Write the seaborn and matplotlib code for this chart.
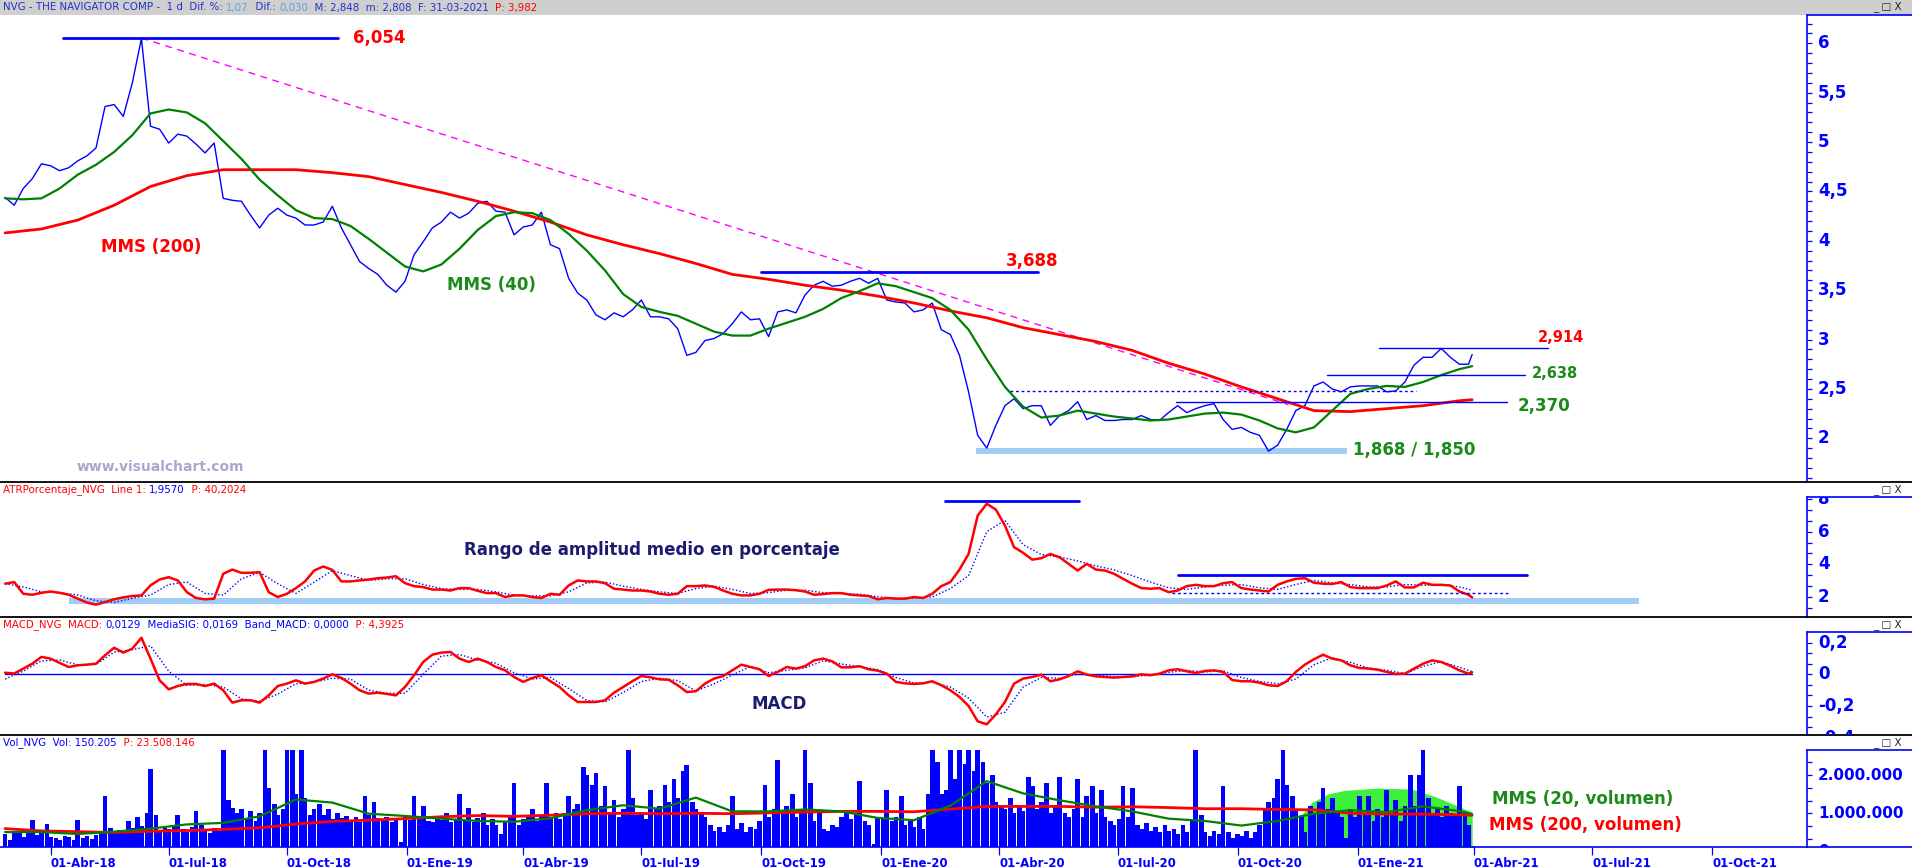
import numpy as np
import pandas as pd
import matplotlib
matplotlib.use("Agg")
import matplotlib.pyplot as plt
from matplotlib.lines import Line2D
from matplotlib.patches import Rectangle
from matplotlib.ticker import MultipleLocator
from matplotlib.transforms import Bbox, TransformedBbox
import seaborn as sns

sns.set_theme(style="white")
plt.rcParams['font.family'] = ['DejaVu Sans']

W, H = 1912, 867
START = "2018-02-26"
LAST = "2021-03-31"

# sampling grids: weekly mondays, every 2 / 4 weeks, twice a week (vol)
week_dates = list(pd.date_range(START, "2021-03-29", freq="7D").strftime("%Y-%m-%d")) + [LAST]
sig_dates = week_dates[:-1][::2] + [LAST]
ma_dates = week_dates[:-1][::4] + [LAST]
_mon = pd.date_range(START, "2021-03-29", freq="W-MON")
_thu = pd.date_range(START, "2021-03-29", freq="W-THU")
vol_dates = list(_mon.union(_thu).strftime("%Y-%m-%d")) + [LAST]

# ---- price (weekly close)
price_close = [
    4.44, 4.36, 4.53, 4.63, 4.78, 4.76, 4.71, 4.74, 4.81, 4.86,
    4.94, 5.36, 5.38, 5.26, 5.60, 6.05, 5.16, 5.13, 4.99, 5.08,
    5.06, 4.98, 4.89, 4.99, 4.43, 4.41, 4.40, 4.26, 4.13, 4.26,
    4.33, 4.26, 4.23, 4.16, 4.16, 4.19, 4.35, 4.13, 3.96, 3.79,
    3.72, 3.66, 3.55, 3.48, 3.59, 3.86, 3.99, 4.13, 4.19, 4.29,
    4.23, 4.28, 4.38, 4.40, 4.30, 4.29, 4.06, 4.14, 4.16, 4.29,
    3.96, 3.92, 3.62, 3.47, 3.40, 3.25, 3.20, 3.27, 3.23, 3.30,
    3.40, 3.23, 3.23, 3.21, 3.11, 2.84, 2.87, 2.99, 3.01, 3.06,
    3.16, 3.28, 3.20, 3.21, 3.03, 3.28, 3.30, 3.27, 3.45, 3.55,
    3.59, 3.54, 3.55, 3.59, 3.62, 3.57, 3.62, 3.40, 3.38, 3.37,
    3.28, 3.30, 3.37, 3.10, 3.05, 2.84, 2.47, 2.03, 1.90, 2.13,
    2.33, 2.40, 2.30, 2.33, 2.33, 2.13, 2.23, 2.28, 2.37, 2.19,
    2.23, 2.18, 2.18, 2.19, 2.19, 2.23, 2.19, 2.18, 2.26, 2.33,
    2.26, 2.30, 2.33, 2.35, 2.19, 2.09, 2.11, 2.06, 2.03, 1.87,
    1.93, 2.09, 2.28, 2.33, 2.53, 2.57, 2.50, 2.47, 2.52, 2.53,
    2.53, 2.53, 2.47, 2.48, 2.57, 2.74, 2.82, 2.82, 2.91, 2.82,
    2.75, 2.75, 2.848]
# MMS (40): every 2 weeks
mms40 = [
    4.43, 4.42, 4.43, 4.53, 4.67, 4.77, 4.90, 5.07, 5.29, 5.33,
    5.30, 5.19, 5.01, 4.83, 4.62, 4.46, 4.31, 4.23, 4.22, 4.15,
    4.02, 3.88, 3.74, 3.69, 3.76, 3.92, 4.11, 4.25, 4.29, 4.28,
    4.21, 4.07, 3.90, 3.70, 3.46, 3.33, 3.28, 3.24, 3.16, 3.08,
    3.04, 3.04, 3.11, 3.17, 3.23, 3.31, 3.42, 3.49, 3.57, 3.54,
    3.48, 3.42, 3.30, 3.10, 2.80, 2.52, 2.32, 2.21, 2.23, 2.28,
    2.25, 2.22, 2.20, 2.18, 2.19, 2.22, 2.25, 2.26, 2.24, 2.18,
    2.10, 2.06, 2.11, 2.28, 2.45, 2.50, 2.53, 2.52, 2.57, 2.64,
    2.70, 2.73]
# MMS (200): every 4 weeks
mms200 = [
    4.08, 4.12, 4.21, 4.36, 4.55, 4.66, 4.72, 4.72, 4.72, 4.69,
    4.65, 4.57, 4.49, 4.40, 4.30, 4.19, 4.06, 3.96, 3.87, 3.77,
    3.66, 3.61, 3.55, 3.50, 3.44, 3.37, 3.29, 3.22, 3.12, 3.05,
    2.98, 2.89, 2.76, 2.65, 2.52, 2.40, 2.28, 2.27, 2.30, 2.33,
    2.38, 2.39]

# ---- ATR % (weekly) and its signal (every 2 weeks)
atr = [
    2.80, 2.90, 2.18, 2.12, 2.24, 2.32, 2.24, 2.12, 1.88, 1.64,
    1.51, 1.67, 1.84, 1.96, 2.04, 2.08, 2.70, 3.06, 3.20, 3.00,
    2.28, 1.92, 1.84, 1.88, 3.41, 3.67, 3.47, 3.47, 3.51, 2.28,
    1.98, 2.18, 2.53, 2.94, 3.61, 3.86, 3.65, 2.94, 2.94, 3.00,
    3.06, 3.14, 3.18, 3.26, 2.83, 2.65, 2.59, 2.44, 2.44, 2.38,
    2.53, 2.53, 2.36, 2.22, 2.22, 1.98, 2.08, 2.08, 1.98, 1.92,
    2.18, 2.12, 2.69, 3.00, 2.94, 2.94, 2.83, 2.49, 2.44, 2.38,
    2.38, 2.32, 2.18, 2.12, 2.18, 2.65, 2.65, 2.69, 2.61, 2.38,
    2.18, 2.08, 2.08, 2.18, 2.42, 2.44, 2.44, 2.40, 2.32, 2.12,
    2.16, 2.22, 2.22, 2.12, 2.08, 2.04, 1.84, 1.92, 1.88, 1.88,
    1.98, 1.92, 2.18, 2.65, 2.90, 3.67, 4.63, 6.99, 7.72, 7.36,
    6.38, 5.05, 4.70, 4.28, 4.37, 4.63, 4.43, 4.02, 3.61, 4.02,
    3.67, 3.61, 3.41, 3.10, 2.80, 2.53, 2.49, 2.53, 2.28, 2.38,
    2.65, 2.73, 2.65, 2.65, 2.83, 2.90, 2.53, 2.44, 2.38, 2.32,
    2.73, 2.94, 3.10, 3.14, 2.86, 2.80, 2.78, 2.90, 2.59, 2.53,
    2.53, 2.53, 2.69, 2.94, 2.57, 2.57, 2.86, 2.73, 2.73, 2.69,
    2.32, 2.12, 1.957]
atr_sig = [
    2.80, 2.60, 2.30, 2.25, 2.10, 1.75, 1.65, 1.90, 2.10, 2.75,
    2.90, 2.20, 2.10, 3.10, 3.50, 2.80, 2.20, 2.90, 3.60, 3.30,
    3.00, 3.10, 3.10, 2.75, 2.50, 2.45, 2.45, 2.30, 2.10, 2.05,
    2.05, 2.30, 2.85, 2.90, 2.65, 2.45, 2.30, 2.20, 2.50, 2.65,
    2.45, 2.20, 2.25, 2.40, 2.40, 2.25, 2.20, 2.15, 2.00, 1.90,
    1.92, 1.98, 2.50, 3.30, 6.00, 6.70, 5.20, 4.60, 4.45, 4.20,
    3.90, 3.65, 3.30, 2.90, 2.55, 2.45, 2.60, 2.70, 2.75, 2.55,
    2.45, 2.75, 3.00, 2.85, 2.75, 2.60, 2.60, 2.75, 2.70, 2.75,
    2.60, 2.40]

# ---- MACD (weekly) and signal (every 2 weeks)
macd = [
    0.010, 0.005, 0.036, 0.067, 0.110, 0.099, 0.072, 0.046, 0.057, 0.061,
    0.067, 0.120, 0.168, 0.137, 0.162, 0.231, 0.099, -0.038, -0.095, -0.074,
    -0.061, -0.061, -0.074, -0.059, -0.101, -0.179, -0.164, -0.164, -0.179, -0.133,
    -0.074, -0.059, -0.038, -0.059, -0.048, -0.027, 0.000, -0.023, -0.059, -0.101,
    -0.122, -0.116, -0.124, -0.133, -0.080, -0.006, 0.078, 0.124, 0.137, 0.141,
    0.099, 0.078, 0.099, 0.078, 0.046, 0.025, -0.017, -0.048, -0.023, -0.006,
    -0.044, -0.080, -0.133, -0.175, -0.175, -0.175, -0.164, -0.116, -0.080, -0.044,
    -0.011, -0.019, -0.032, -0.034, -0.069, -0.112, -0.107, -0.059, -0.027, -0.011,
    0.025, 0.061, 0.046, 0.032, -0.011, 0.015, 0.046, 0.036, 0.051, 0.088,
    0.099, 0.082, 0.044, 0.044, 0.051, 0.032, 0.023, 0.004, -0.048, -0.057,
    -0.061, -0.057, -0.044, -0.069, -0.101, -0.143, -0.200, -0.297, -0.316, -0.253,
    -0.175, -0.059, -0.027, -0.017, -0.002, -0.044, -0.032, -0.011, 0.019, -0.002,
    -0.013, -0.017, -0.021, -0.017, -0.013, 0.000, -0.006, 0.004, 0.025, 0.032,
    0.019, 0.008, 0.021, 0.025, 0.015, -0.036, -0.044, -0.044, -0.053, -0.069,
    -0.074, -0.044, 0.015, 0.061, 0.095, 0.124, 0.099, 0.088, 0.057, 0.040,
    0.036, 0.029, 0.015, 0.002, 0.004, 0.036, 0.067, 0.088, 0.078, 0.053,
    0.025, 0.004, 0.0129]
macd_sig = [
    -0.030, 0.020, 0.085, 0.090, 0.060, 0.062, 0.140, 0.155, 0.180, 0.020,
    -0.070, -0.065, -0.080, -0.155, -0.170, -0.125, -0.060, -0.050, -0.025, -0.030,
    -0.100, -0.120, -0.120, 0.000, 0.115, 0.125, 0.090, 0.070, 0.010, -0.030,
    -0.020, -0.090, -0.165, -0.175, -0.115, -0.045, -0.025, -0.040, -0.105, -0.060,
    -0.005, 0.050, 0.010, 0.025, 0.040, 0.085, 0.065, 0.048, 0.030, -0.020,
    -0.055, -0.050, -0.080, -0.150, -0.270, -0.240, -0.080, -0.020, -0.025, 0.000,
    -0.005, -0.015, -0.015, -0.005, 0.012, 0.025, 0.015, 0.022, -0.020, -0.045,
    -0.060, -0.030, 0.060, 0.105, 0.075, 0.040, 0.025, 0.005, 0.050, 0.080,
    0.045, 0.0169]

# ---- volume (thousands, twice a week) and its averages (every 4 weeks)
volume_k = [
    450, 300, 520, 480, 390, 560, 820, 430, 500, 720,
    380, 350, 300, 420, 380, 290, 830, 360, 400, 330,
    440, 520, 1450, 620, 480, 560, 510, 800, 620, 900,
    680, 1000, 2150, 950, 560, 620, 580, 700, 950, 600,
    520, 640, 1050, 700, 560, 480, 620, 530, 2700, 1350,
    1150, 1000, 1100, 850, 1050, 800, 1000, 2700, 1650, 1250,
    950, 1100, 2700, 2700, 1500, 2700, 1400, 950, 1100, 1250,
    950, 1100, 850, 1000, 880, 920, 800, 900, 760, 1450,
    950, 1300, 880, 820, 900, 780, 860, 250, 900, 820,
    1450, 880, 1200, 800, 760, 900, 830, 1000, 780, 850,
    1500, 820, 1150, 760, 880, 1000, 700, 850, 700, 450,
    800, 900, 1800, 700, 850, 950, 1100, 800, 950, 1800,
    900, 1000, 850, 1000, 1450, 1100, 1250, 2200, 2000, 1750,
    2050, 1200, 1700, 1000, 1350, 900, 1100, 2700, 1400, 950,
    1000, 850, 1600, 1100, 1200, 1750, 1300, 1900, 1400, 2100,
    2250, 1300, 1100, 1000, 900, 700, 550, 650, 500, 700,
    1450, 600, 750, 500, 650, 580, 800, 1750, 900, 1100,
    2400, 1000, 1200, 1500, 900, 1100, 2700, 1800, 800, 1000,
    600, 550, 700, 650, 900, 1000, 850, 1000, 1850, 800,
    700, 200, 900, 850, 1600, 800, 900, 1450, 700, 800,
    650, 900, 600, 1500, 2700, 2350, 1500, 1600, 2700, 1900,
    2700, 2300, 2700, 2100, 2700, 2350, 1800, 2000, 1300, 1200,
    1100, 1400, 1000, 1200, 1050, 1950, 1700, 1100, 1300, 1800,
    1000, 1200, 1950, 1000, 900, 1100, 1900, 900, 1450, 1700,
    1000, 1600, 900, 800, 700, 850, 1700, 900, 1650, 700,
    600, 750, 550, 650, 500, 700, 550, 600, 450, 700,
    500, 800, 2700, 950, 500, 400, 550, 450, 1700, 500,
    350, 450, 400, 550, 350, 500, 700, 1150, 1300, 1400,
    1900, 2700, 1750, 1450, 1100, 900, 500, 1200, 1000, 1300,
    1650, 1100, 1400, 1000, 900, 350, 1100, 900, 1450, 1000,
    1450, 800, 1100, 900, 1600, 1000, 1350, 800, 1200, 2000,
    1200, 2000, 2700, 1400, 1000, 1100, 900, 1200, 1000, 950,
    1700, 1000, 700, 150]
vol_mms200_k = [
    600, 540, 520, 500, 530, 550, 580, 620, 720, 790,
    820, 860, 910, 940, 920, 950, 990, 1000, 990, 1000,
    990, 1010, 1030, 1050, 1050, 1040, 1110, 1180, 1180, 1180,
    1160, 1170, 1150, 1120, 1120, 1100, 1090, 1000, 980, 980,
    960, 950]
vol_mms20_k = [
    510, 510, 460, 520, 600, 710, 750, 920, 1360, 1280,
    990, 930, 860, 800, 780, 870, 1080, 1210, 1120, 1410,
    1050, 1050, 1100, 1050, 880, 820, 1200, 1840, 1520, 1340,
    1180, 1050, 860, 800, 680, 800, 990, 1080, 1030, 1180,
    1060, 980]
# highlighted zone (green dome) on the volume panel
dome_dates = ["2020-11-19", "2020-11-27", "2020-12-10", "2020-12-23", "2021-01-19",
              "2021-02-12", "2021-03-03", "2021-03-16", LAST]
dome_top_k = [950, 1290, 1510, 1600, 1660, 1630, 1430, 1250, 1030]

tick_dates = ["2018-04-01", "2018-07-01", "2018-10-01", "2019-01-01", "2019-04-01",
              "2019-07-01", "2019-10-01", "2020-01-01", "2020-04-01", "2020-07-01",
              "2020-10-01", "2021-01-01", "2021-04-01", "2021-07-01", "2021-10-01"]
tick_labels = ["01-Abr-18", "01-Jul-18", "01-Oct-18", "01-Ene-19", "01-Abr-19",
               "01-Jul-19", "01-Oct-19", "01-Ene-20", "01-Abr-20", "01-Jul-20",
               "01-Oct-20", "01-Ene-21", "01-Abr-21", "01-Jul-21", "01-Oct-21"]


def bd(d):
    # trading-day axis: business days since the first session
    return np.busday_count(START, np.asarray(d, dtype="datetime64[D]"))


def fx(px):
    return px / W


def fy(py):
    return 1 - py / H


BLUE = "#0000ff"
RED = "#ff0000"
GREEN = "#008000"
TXTGREEN = "#1b8a1b"
NAVY = "#1c1c6e"
XLIM = (-2.8, 991.2)
AXW = 1807 / W

fig = plt.figure(figsize=(W / 100, H / 100), dpi=100)
fig.patch.set_facecolor("white")


def make_ax(top, bottom):
    ax = fig.add_axes([0, fy(bottom), AXW, (bottom - top) / H])
    ax.set_facecolor("white")
    for s in ["left", "top", "bottom"]:
        ax.spines[s].set_visible(False)
    ax.spines["right"].set_color(BLUE)
    ax.spines["right"].set_linewidth(1.2)
    ax.tick_params(axis="y", which="both", left=False, right=True, labelleft=False,
                   labelright=False, direction="out", length=3.5, width=0.9, color=BLUE)
    ax.tick_params(axis="x", bottom=False, labelbottom=False)
    ax.grid(False)
    fig.add_artist(Line2D([AXW, 1], [fy(top), fy(top)], color=BLUE, lw=1.2))
    return ax


def right_labels(ax, values, fmt, size):
    trans = ax.get_yaxis_transform()
    clip = TransformedBbox(Bbox([[1.0, 0.0], [1.06, 1.0]]), ax.transAxes)
    for v in values:
        t = fig.text(1818 / 1807, v, fmt(v), transform=trans, ha="left", va="center",
                     color=BLUE, fontsize=size, fontweight="bold")
        t.set_clip_on(True)
        t.set_clip_box(clip)


def dec(v):
    return f"{v:g}".replace(".", ",")


def seq_text(x_px, y_px, parts, size=7.4):
    r = fig.canvas.get_renderer()
    x = x_px
    for s, c in parts:
        t = fig.text(fx(x), fy(y_px), s, color=c, fontsize=size, ha="left", va="center")
        x += t.get_window_extent(renderer=r).width


def hline(ax, d0, d1, y, **kw):
    ax.plot(bd([d0, d1]), [y, y], **kw)


x_week = bd(week_dates)
x_sig = bd(sig_dates)
x_ma = bd(ma_dates)
x_vol = bd(vol_dates)

# ================= price panel
ax = make_ax(15, 482)
sns.lineplot(x=x_week, y=price_close, ax=ax, color=BLUE, linewidth=1.0, zorder=3)
sns.lineplot(x=x_ma, y=mms200, ax=ax, color=RED, linewidth=2.0, zorder=4)
sns.lineplot(x=x_sig, y=mms40, ax=ax, color=GREEN, linewidth=1.6, zorder=5)
ax.plot(bd(["2018-06-11", "2020-11-10"]), [6.054, 2.34], color="#ff00ff", lw=1.0,
        dashes=(5, 4), zorder=2)
hline(ax, "2018-04-11", "2018-11-08", 6.054, color=BLUE, lw=2.0, zorder=6)
hline(ax, "2019-10-01", "2020-04-30", 3.688, color=BLUE, lw=2.0, zorder=6)
hline(ax, "2021-01-19", "2021-05-28", 2.914, color=BLUE, lw=1.0, zorder=6)
hline(ax, "2020-12-09", "2021-05-11", 2.638, color=BLUE, lw=1.0, zorder=6)
hline(ax, "2020-08-14", "2021-04-27", 2.370, color=BLUE, lw=1.0, zorder=6)
hline(ax, "2020-04-09", "2021-02-16", 2.48, color=BLUE, lw=1.0, ls=(0, (2, 2)), zorder=6)
ax.fill_between(bd(["2020-03-13", "2020-12-24"]), 1.836, 1.897, color="#a3ccf5", lw=0, zorder=2)
ax.set_ylim(1.557, 6.287)
ax.set_xlim(*XLIM)
ax.yaxis.set_major_locator(MultipleLocator(0.5))
ax.yaxis.set_minor_locator(MultipleLocator(0.1))
ax.set_xticks([])
right_labels(ax, [2, 2.5, 3, 3.5, 4, 4.5, 5, 5.5, 6], dec, 12)

# ================= ATR panel
ax2 = make_ax(497, 617)
ax2.fill_between(bd(["2018-04-16", "2021-08-06"]), 1.57, 1.92, color="#a3ccf5", lw=0, zorder=1)
sns.lineplot(x=x_sig, y=atr_sig, ax=ax2, color=BLUE, linewidth=1.0, linestyle=(0, (1, 1.5)), zorder=3)
sns.lineplot(x=x_week, y=atr, ax=ax2, color=RED, linewidth=1.8, zorder=4)
hline(ax2, "2020-02-19", "2020-06-02", 7.89, color=BLUE, lw=2.0, zorder=5)
hline(ax2, "2020-08-17", "2021-05-12", 3.35, color=BLUE, lw=2.0, zorder=5)
hline(ax2, "2020-08-12", "2021-04-28", 2.23, color=BLUE, lw=1.0, ls=(0, (2, 2)), zorder=5)
ax2.set_ylim(0.751, 8.135)
ax2.set_xlim(*XLIM)
ax2.yaxis.set_major_locator(MultipleLocator(2))
ax2.yaxis.set_minor_locator(MultipleLocator(2 / 3))
ax2.set_xticks([])
right_labels(ax2, [2, 4, 6, 8], dec, 12)

# ================= MACD panel
ax3 = make_ax(632.3, 735)
ax3.plot(bd([START, LAST]), [0, 0], color=BLUE, lw=1.0, zorder=2)
sns.lineplot(x=x_sig, y=macd_sig, ax=ax3, color=BLUE, linewidth=1.0, linestyle=(0, (1, 1.5)), zorder=3)
sns.lineplot(x=x_week, y=macd, ax=ax3, color=RED, linewidth=1.8, zorder=4)
ax3.set_ylim(-0.3834, 0.2653)
ax3.set_xlim(*XLIM)
ax3.yaxis.set_major_locator(MultipleLocator(0.2))
ax3.yaxis.set_minor_locator(MultipleLocator(0.2 / 3))
ax3.set_xticks([])
right_labels(ax3, [0.2, 0, -0.2, -0.4], dec, 12)

# ================= volume panel
ax4 = make_ax(750, 847)
ax4.fill_between(bd(dome_dates), 0, np.array(dome_top_k) * 1000, color="#3cf03c", lw=0, zorder=1)
ax4.bar(x_vol, np.array(volume_k) * 1000, width=2.6, color=BLUE, linewidth=0, zorder=2)
sns.lineplot(x=x_ma, y=np.array(vol_mms200_k) * 1000, ax=ax4, color=RED, linewidth=2.0, zorder=4)
sns.lineplot(x=x_ma, y=np.array(vol_mms20_k) * 1000, ax=ax4, color=GREEN, linewidth=1.6, zorder=5)
ax4.set_ylim(120000, 2653000)
ax4.set_xlim(*XLIM)
ax4.yaxis.set_major_locator(MultipleLocator(1000000))
ax4.yaxis.set_minor_locator(MultipleLocator(1000000 / 3))
ax4.spines["bottom"].set_visible(True)
ax4.spines["bottom"].set_color(BLUE)
ax4.spines["bottom"].set_linewidth(1.2)
ax4.set_xticks(bd(tick_dates))
ax4.set_xticklabels(tick_labels, ha="left", color=BLUE, fontsize=8.5, fontweight="bold")
ax4.tick_params(axis="x", bottom=True, labelbottom=True, direction="out", length=6,
                width=0.9, color=BLUE, pad=1)
ax4.set_xlabel("")
ax4.set_ylabel("")
right_labels(ax4, [0, 1000000, 2000000], lambda v: f"{int(v):,}".replace(",", "."), 11)
fig.add_artist(Line2D([AXW, 1], [fy(847), fy(847)], color=BLUE, lw=1.2))

for a in (ax, ax2, ax3):
    a.set_xlabel("")
    a.set_ylabel("")

# ================= frame, separators, headers
fig.add_artist(Rectangle((0, fy(15)), 1, 15 / H, transform=fig.transFigure,
                         facecolor="#cfcfcf", edgecolor="none", zorder=0))
for y in (482, 617, 735):
    fig.add_artist(Line2D([0, 1], [fy(y), fy(y)], color="black", lw=1.3))
for y in (7, 490, 625, 743):
    fig.text(fx(1873), fy(y), "_ \u25a1 X", fontsize=7.5, color="#222222", va="center")

LB = "#5fa0e0"
TB = "#2233cc"
seq_text(3, 7.5, [("NVG - THE NAVIGATOR COMP -  1 d  Dif. %: ", TB), ("1,07", LB),
                  ("  Dif.: ", TB), ("0,030", LB),
                  ("  M: 2,848  m: 2,808  F: 31-03-2021  ", TB), ("P: 3,982", RED)])
seq_text(3, 490, [("ATRPorcentaje_NVG  Line 1: ", RED), ("1,9570", BLUE), ("  P: 40,2024", RED)])
seq_text(3, 625, [("MACD_NVG  MACD: ", RED), ("0,0129", BLUE),
                  ("  MediaSIG: 0,0169  Band_MACD: 0,0000", BLUE), ("  P: 4,3925", RED)])
seq_text(3, 743, [("Vol_NVG  Vol: 150.205", BLUE), ("  P: 23.508.146", RED)])

# ================= annotations
bold = dict(fontweight="bold", ha="center", va="center")
fig.text(fx(379), fy(38), "6,054", color=RED, fontsize=12, **bold)
fig.text(fx(1032), fy(261), "3,688", color=RED, fontsize=12, **bold)
fig.text(fx(1561), fy(337), "2,914", color=RED, fontsize=10.5, **bold)
fig.text(fx(1555), fy(373), "2,638", color=TXTGREEN, fontsize=10.5, **bold)
fig.text(fx(1544), fy(406), "2,370", color=TXTGREEN, fontsize=12, **bold)
fig.text(fx(1414), fy(450), "1,868 / 1,850", color=TXTGREEN, fontsize=12, **bold)
fig.text(fx(151), fy(247), "MMS (200)", color=RED, fontsize=12, **bold)
fig.text(fx(491), fy(285), "MMS (40)", color=TXTGREEN, fontsize=12, **bold)
fig.text(fx(160), fy(467), "www.visualchart.com", color="#a8a8d0", fontsize=10, **bold)
fig.text(fx(652), fy(550), "Rango de amplitud medio en porcentaje", color=NAVY, fontsize=12, **bold)
fig.text(fx(779), fy(704), "MACD", color=NAVY, fontsize=12, **bold)
fig.text(fx(1583), fy(799), "MMS (20, volumen)", color=TXTGREEN, fontsize=12, **bold)
fig.text(fx(1585), fy(825), "MMS (200, volumen)", color=RED, fontsize=12, **bold)

fig.savefig("out.png", dpi=100)
